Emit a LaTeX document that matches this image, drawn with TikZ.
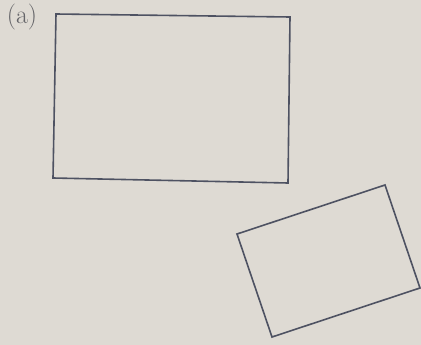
\documentclass[tikz,border=0pt]{standalone}
\usepackage{tikz}
\definecolor{paperGrey}{RGB}{222,218,211}
\definecolor{inkBlue}{RGB}{78,82,98}
\definecolor{labelGrey}{RGB}{100,100,104}
\tikzset{
  x=1pt,y=-1pt,
  shape line/.style={draw=inkBlue,line width=1.6pt,line join=miter},
  label text/.style={text=labelGrey,font=\fontsize{26}{30}\selectfont,inner sep=0},
}
\begin{document}
\begin{tikzpicture}
  \fill[paperGrey] (0,0) rectangle (421,345);
  \useasboundingbox (0,0) rectangle (421,345);
  % label
  \node (lab) [label text] at (22,17) {(a)};
  % upper rectangle
  \coordinate (p1) at (56,14);
  \coordinate (p2) at (290,17);
  \coordinate (p3) at (288,183);
  \coordinate (p4) at (53,178);
  \draw [shape line] (p1) -- (p2) -- (p3) -- (p4) -- cycle;
  % tilted rectangle
  \coordinate (q1) at (237,234);
  \coordinate (q2) at (385,185);
  \coordinate (q3) at (420,288);
  \coordinate (q4) at (272,337);
  \draw [shape line] (q1) -- (q2) -- (q3) -- (q4) -- cycle;
\end{tikzpicture}
\end{document}
